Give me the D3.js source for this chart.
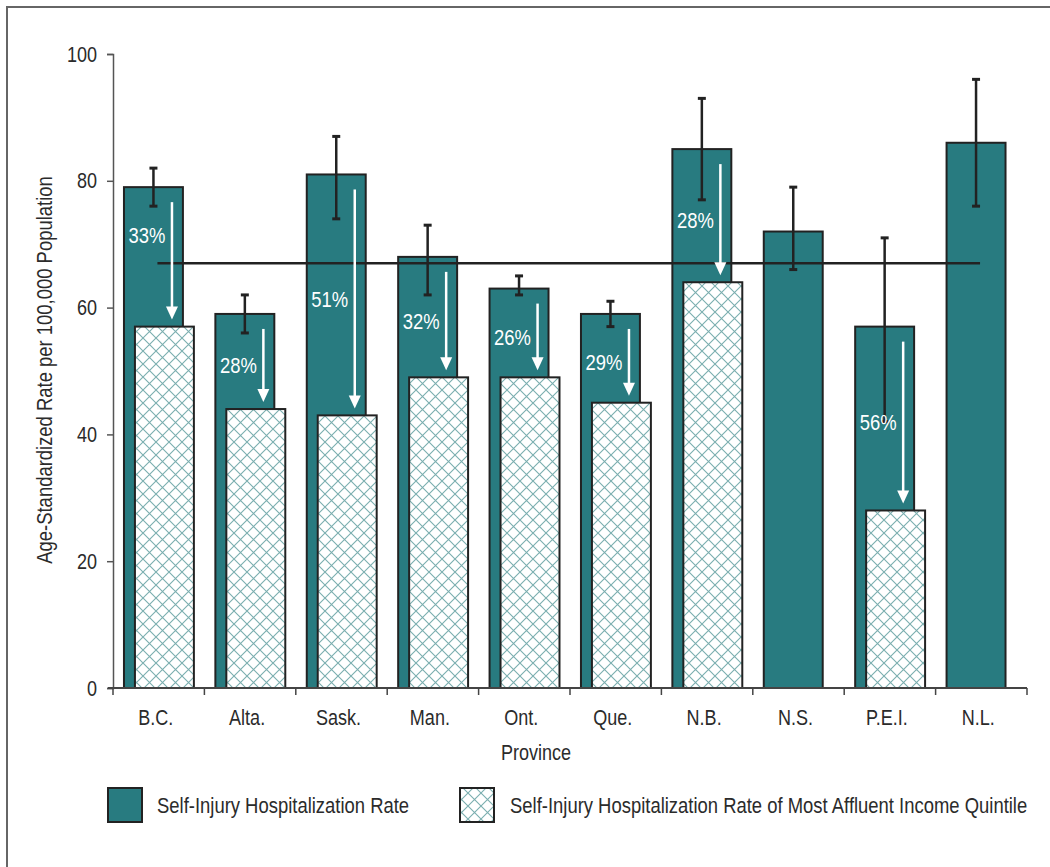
<!DOCTYPE html>
<html>
<head>
<meta charset="utf-8">
<script src="https://cdn.jsdelivr.net/npm/d3@7"></script>
<style>
  body { margin: 0; background: #fff; }
  text { font-family: "Liberation Sans", Arial, sans-serif; fill: #2b2b2b; }
</style>
</head>
<body>
<div id="chart"></div>
<script>
// data
var provinces = ["B.C.", "Alta.", "Sask.", "Man.", "Ont.", "Que.", "N.B.", "N.S.", "P.E.I.", "N.L."];
var rates = [79, 59, 81, 68, 63, 59, 85, 72, 57, 86];
var rateLow = [76, 56, 74, 62, 62, 57, 77, 66, 42, 76];
var rateHigh = [82, 62, 87, 73, 65, 61, 93, 79, 71, 96];
var affluentRates = [57, 44, 43, 49, 49, 45, 64, null, 28, null];
var gapLabels = ["33%", "28%", "51%", "32%", "26%", "29%", "28%", null, "56%", null];
var canadaRate = 67;
var yTicks = [0, 20, 40, 60, 80, 100];

var width = 1050, height = 867;
var teal = "#287b80";
var dark = "#222";

// the original uses a condensed font; squeeze Liberation Sans horizontally
function narrow(sel) {
  sel.each(function() {
    var t = d3.select(this);
    var tx = +t.attr("x") || 0, ty = +t.attr("y") || 0;
    var tr = t.attr("transform") || "";
    t.attr("x", 0).attr("y", 0)
      .attr("transform", tr + " translate(" + tx + "," + ty + ") scale(0.82,1)");
  });
}

var svg = d3.select("#chart").append("svg")
  .attr("width", width)
  .attr("height", height);

// hatch pattern for affluent quintile bars
var defs = svg.append("defs");
var pat = defs.append("pattern")
  .attr("id", "diamonds")
  .attr("patternUnits", "userSpaceOnUse")
  .attr("width", 13)
  .attr("height", 13);
pat.append("rect").attr("width", 13).attr("height", 13).attr("fill", "#fff");
pat.append("path")
  .attr("d", "M0,0L13,13M13,0L0,13")
  .attr("stroke", "#7aaeaf")
  .attr("stroke-width", 1.1)
  .attr("fill", "none");

// outer frame (only top and left edges are visible)
svg.append("path")
  .attr("d", "M7,880V7H1060")
  .attr("fill", "none")
  .attr("stroke", "#666")
  .attr("stroke-width", 2);

var x = d3.scaleBand().domain(provinces).range([113, 1027]).paddingInner(0).paddingOuter(0);
var y = d3.scaleLinear().domain([0, 100]).range([688, 54]);
var bw = x.bandwidth();
var barW = bw * 0.645;
var tealOff = bw * 0.12;
var hatchOff = bw * 0.24;

// y axis
var yAxis = svg.append("g")
  .attr("transform", "translate(113,0)")
  .call(d3.axisLeft(y).tickValues(yTicks).tickSize(6).tickPadding(10));
yAxis.select(".domain").attr("stroke", "#555").attr("stroke-width", 1.5);
yAxis.selectAll(".tick line").attr("stroke", "#555").attr("stroke-width", 1.5);
yAxis.selectAll(".tick text").attr("font-size", 22).attr("fill", "#2b2b2b")
  .attr("font-family", "'Liberation Sans', Arial, sans-serif")
  .call(narrow);

svg.append("text")
  .attr("transform", "translate(52,370) rotate(-90)")
  .attr("text-anchor", "middle")
  .attr("font-size", 22.5)
  .text("Age-Standardized Rate per 100,000 Population")
  .call(narrow);

// teal bars
var idx = d3.range(provinces.length);
svg.selectAll(".rate")
  .data(idx)
  .enter().append("rect")
  .attr("class", "rate")
  .attr("x", function(i) { return x(provinces[i]) + tealOff; })
  .attr("y", function(i) { return y(rates[i]); })
  .attr("width", barW)
  .attr("height", function(i) { return y(0) - y(rates[i]); })
  .attr("fill", teal)
  .attr("stroke", dark)
  .attr("stroke-width", 2);

// hatched bars
var withAffluent = idx.filter(function(i) { return affluentRates[i] != null; });
svg.selectAll(".affluent")
  .data(withAffluent)
  .enter().append("rect")
  .attr("class", "affluent")
  .attr("x", function(i) { return x(provinces[i]) + hatchOff; })
  .attr("y", function(i) { return y(affluentRates[i]); })
  .attr("width", barW)
  .attr("height", function(i) { return y(0) - y(affluentRates[i]); })
  .attr("fill", "url(#diamonds)")
  .attr("stroke", dark)
  .attr("stroke-width", 2);

// x axis
var xAxis = svg.append("g").attr("transform", "translate(0,688)");
xAxis.append("line")
  .attr("x1", 108).attr("x2", 1027)
  .attr("stroke", "#444").attr("stroke-width", 2);
xAxis.selectAll(".xtick")
  .data(d3.range(provinces.length + 1))
  .enter().append("line")
  .attr("x1", function(k) { return 113 + k * bw; })
  .attr("x2", function(k) { return 113 + k * bw; })
  .attr("y1", 0).attr("y2", 7)
  .attr("stroke", "#444").attr("stroke-width", 1.5);
xAxis.selectAll(".xlabel")
  .data(provinces)
  .enter().append("text")
  .attr("x", function(d) { return x(d) + bw / 2 - 3; })
  .attr("y", 37)
  .attr("text-anchor", "middle")
  .attr("font-size", 22)
  .text(function(d) { return d; })
  .call(narrow);

svg.append("text")
  .attr("x", 536)
  .attr("y", 760)
  .attr("text-anchor", "middle")
  .attr("font-size", 22)
  .text("Province")
  .call(narrow);

// Canada average line, from first to last bar centre
var tealCenter = function(i) { return x(provinces[i]) + tealOff + barW / 2; };
svg.append("line")
  .attr("x1", tealCenter(0) + 4)
  .attr("x2", tealCenter(provinces.length - 1) + 4)
  .attr("y1", y(canadaRate))
  .attr("y2", y(canadaRate))
  .attr("stroke", dark)
  .attr("stroke-width", 2.5);

// error bars
var eb = svg.selectAll(".err").data(idx).enter().append("g").attr("class", "err");
eb.append("line")
  .attr("x1", tealCenter).attr("x2", tealCenter)
  .attr("y1", function(i) { return y(rateLow[i]); })
  .attr("y2", function(i) { return y(rateHigh[i]); })
  .attr("stroke", dark).attr("stroke-width", 2.5);
eb.append("line")
  .attr("x1", function(i) { return tealCenter(i) - 4; })
  .attr("x2", function(i) { return tealCenter(i) + 4; })
  .attr("y1", function(i) { return y(rateLow[i]); })
  .attr("y2", function(i) { return y(rateLow[i]); })
  .attr("stroke", dark).attr("stroke-width", 3);
eb.append("line")
  .attr("x1", function(i) { return tealCenter(i) - 4; })
  .attr("x2", function(i) { return tealCenter(i) + 4; })
  .attr("y1", function(i) { return y(rateHigh[i]); })
  .attr("y2", function(i) { return y(rateHigh[i]); })
  .attr("stroke", dark).attr("stroke-width", 3);

// white arrows showing the gap, with percent labels
var arrows = svg.selectAll(".gap").data(withAffluent).enter().append("g").attr("class", "gap");
var arrowX = function(i) { return x(provinces[i]) + tealOff + 48; };
var arrowTop = function(i) { return y(rates[i]) + 15; };
var arrowTip = function(i) { return y(affluentRates[i]) - 7; };
arrows.append("line")
  .attr("x1", arrowX).attr("x2", arrowX)
  .attr("y1", arrowTop)
  .attr("y2", function(i) { return arrowTip(i) - 10; })
  .attr("stroke", "#fff").attr("stroke-width", 2.5);
arrows.append("path")
  .attr("d", function(i) {
    var ax = arrowX(i), ty = arrowTip(i);
    return "M" + (ax - 6) + "," + (ty - 13) + "L" + (ax + 6) + "," + (ty - 13) + "L" + ax + "," + ty + "Z";
  })
  .attr("fill", "#fff");
arrows.append("text")
  .attr("x", function(i) { return x(provinces[i]) + tealOff + 23; })
  .attr("y", function(i) {
    var mid = (arrowTop(i) + arrowTip(i)) / 2;
    // keep the label clear of the average line
    if (Math.abs(mid - y(canadaRate)) < 20) mid = y(canadaRate) - 28;
    return mid;
  })
  .attr("dy", "0.35em")
  .attr("text-anchor", "middle")
  .attr("font-size", 22.5)
  .style("fill", "#fff")
  .text(function(i) { return gapLabels[i]; })
  .call(narrow);

// legend
var legend = svg.append("g");
legend.append("rect")
  .attr("x", 108).attr("y", 788).attr("width", 34).attr("height", 34)
  .attr("fill", teal).attr("stroke", dark).attr("stroke-width", 2);
legend.append("text")
  .attr("x", 157).attr("y", 805).attr("dy", "0.35em")
  .attr("font-size", 22.5)
  .text("Self-Injury Hospitalization Rate")
  .call(narrow);
legend.append("rect")
  .attr("x", 460).attr("y", 788).attr("width", 34).attr("height", 34)
  .attr("fill", "url(#diamonds)").attr("stroke", dark).attr("stroke-width", 2);
legend.append("text")
  .attr("x", 510).attr("y", 805).attr("dy", "0.35em")
  .attr("font-size", 22.5)
  .text("Self-Injury Hospitalization Rate of Most Affluent Income Quintile")
  .call(narrow);
</script>
</body>
</html>
